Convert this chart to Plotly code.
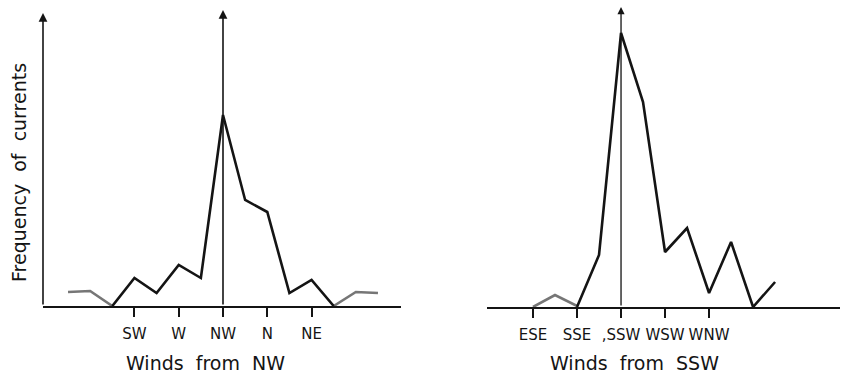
import plotly.graph_objects as go

# --- Winds from NW: positions in half-points of the compass, NW = 0 ---
nw_x_main = [-5, -4, -3, -2, -1, 0, 1, 2, 3, 4, 5]
nw_y_main = [0, 28, 13, 41, 28, 191, 106, 94, 13, 26, 0]
nw_x_left_tail = [-7, -6, -5]
nw_y_left_tail = [14, 15, 0]
nw_x_right_tail = [5, 6, 7]
nw_y_right_tail = [0, 14, 13]
nw_tickvals = [-4, -2, 0, 2, 4]
nw_ticktext = ["SW", "W", "NW", "N", "NE"]

# --- Winds from SSW: SSW = 0 ---
ssw_x_main = [-2, -1, 0, 1, 2, 3, 4, 5, 6, 7]
ssw_y_main = [0, 52, 274, 205, 55, 79, 14, 65, 0, 25]
ssw_x_tail = [-4, -3, -2]
ssw_y_tail = [0, 12, 1]
ssw_tickvals = [-4, -2, 0, 2, 4]
ssw_ticktext = ["ESE", "SSE", ",SSW", "WSW", "WNW"]

W, H = 843, 377
FONT = "DejaVu Sans"
INK = "#141414"
GREY = "#767676"

fig = go.Figure()

def line(x, y, color, xa, ya):
    fig.add_trace(go.Scatter(x=x, y=y, mode="lines", xaxis=xa, yaxis=ya,
                             line=dict(color=color, width=2.6),
                             showlegend=False, hoverinfo="skip", cliponaxis=False))

line(nw_x_left_tail, nw_y_left_tail, GREY, "x", "y")
line(nw_x_right_tail, nw_y_right_tail, GREY, "x", "y")
line(nw_x_main, nw_y_main, INK, "x", "y")
line(ssw_x_tail, ssw_y_tail, GREY, "x2", "y2")
line(ssw_x_main, ssw_y_main, INK, "x2", "y2")

# pixel -> paper helpers
px = lambda v: v / W
py = lambda v: 1 - v / H

nw_range = [-8.13, 8.04]
ssw_range = [-6.09, 9.95]

common_x = dict(showgrid=False, zeroline=False, showline=True, linecolor=INK,
                linewidth=1.5, ticks="outside", ticklen=9, tickwidth=1.5,
                tickcolor=INK, ticklabelstandoff=4,
                tickfont=dict(family=FONT, size=15, color=INK))
common_y = dict(showgrid=False, zeroline=False, showline=False,
                showticklabels=False, range=[0, 300])

fig.update_layout(
    width=W, height=H,
    margin=dict(l=0, r=0, t=0, b=0),
    paper_bgcolor="white", plot_bgcolor="white",
    xaxis=dict(domain=[px(43), px(401)], range=nw_range,
               tickvals=nw_tickvals, ticktext=nw_ticktext, anchor="y", **common_x),
    yaxis=dict(domain=[py(306), py(6)], anchor="x", **common_y),
    xaxis2=dict(domain=[px(487), px(840)], range=ssw_range,
                tickvals=ssw_tickvals, ticktext=ssw_ticktext, anchor="y2", **common_x),
    yaxis2=dict(domain=[py(307), py(7)], anchor="x2", **common_y),
)

def arrow(xref, yref, x, y0, y1, width):
    fig.add_annotation(x=x, y=y1, ax=x, ay=y0, xref=xref, yref=yref,
                       axref=xref, ayref=yref, showarrow=True, arrowhead=2,
                       arrowsize=1.1, arrowwidth=width, arrowcolor=INK, text="")

# vertical axis of the left panel and the centre arrows
arrow("x", "y", nw_range[0], 0, 293, 1.6)
arrow("x", "y", 0, 0, 296, 1.6)
arrow("x2", "y2", 0, 0, 300, 1.3)

# axis titles
def label(text, x, y, angle=0):
    fig.add_annotation(text=text, x=px(x), y=py(y), xref="paper", yref="paper",
                       xanchor="center", yanchor="middle", showarrow=False,
                       textangle=angle, font=dict(family=FONT, size=19, color=INK))

label("Winds  from  NW", 205, 363)
label("Winds  from  SSW", 634, 363)
label("Frequency  of  currents", 19, 173, angle=-90)

fig.write_html("out.html")
